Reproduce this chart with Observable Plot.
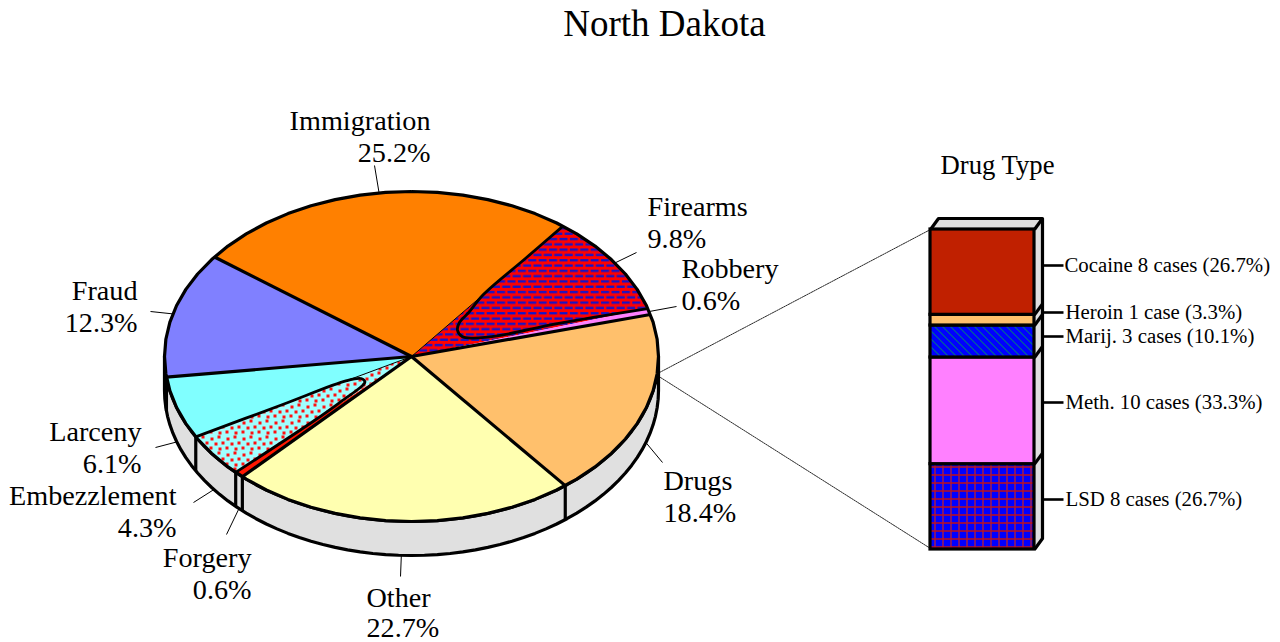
<!DOCTYPE html>
<html>
<head>
<meta charset="utf-8">
<script src="https://cdn.jsdelivr.net/npm/d3@7"></script>
<script src="https://cdn.jsdelivr.net/npm/@observablehq/plot@0.6"></script>
<style>html,body{margin:0;padding:0;background:#fff}svg{display:block}</style>
</head>
<body>
<div id="chart"></div>
<script>
// ---- data ----
const categories = ["Immigration","Firearms","Robbery","Drugs","Other","Forgery","Embezzlement","Larceny","Fraud"];
const shares     = [25.2, 9.8, 0.6, 18.4, 22.7, 0.6, 4.3, 6.1, 12.3];
const drugTypes  = ["LSD","Meth.","Marij.","Heroin","Cocaine"];
const drugCases  = [8, 10, 3, 1, 8];
const drugTexts  = ["LSD 8 cases (26.7%)","Meth. 10 cases (33.3%)","Marij. 3 cases (10.1%)","Heroin 1 case (3.3%)","Cocaine 8 cases (26.7%)"];

// ---- styles and layout, kept apart from the values ----
const sliceFills = ["#ff8000","url(#brick)","#ff80ff","#ffc06c","#ffffb0","#ff1800","url(#dots)","#80ffff","#8080ff"];
const drugFills  = ["url(#grid)","#ff80ff","url(#hatch)","#ffc06c","#c02000"];
const labelAt = [
  {a:"end",  x:430,y:135,lx:374,ly:165},
  {a:"start",x:647,y:221,lx:636,ly:252},
  {a:"start",x:681,y:283,lx:676,ly:306},
  {a:"start",x:663,y:495,lx:662,ly:462},
  {a:"start",x:366,y:612,lx:400,ly:576,lh:29.5},
  {a:"end",  x:251,y:572,lx:226,ly:534},
  {a:"end",  x:176,y:510,lx:193,ly:502},
  {a:"end",  x:141,y:446,lx:155,ly:447},
  {a:"end",  x:137,y:305,lx:150,ly:311}
];
const tickY = [499,402,336,312,265];
const textX = [1065,1065,1065,1065,1064];
const cx = 411, cy = 356, rx = 247, ry = 165, depth = 34;
const thick = 3.2;
const labelSize = 28.2;
const serif = "Liberation Serif, Times New Roman, serif";

// ---- geometry derived from the values ----
const rad = d => d * Math.PI / 180;
const arcs = d3.pie().sort(null).startAngle(rad(-52.9)).endAngle(rad(307.1))(shares);
const pt = (a, t = 1, dz = 0) => ({x: cx + t * rx * Math.sin(a), y: cy - t * ry * Math.cos(a) + dz});
const arcPts = (a0, a1, dz = 0) => d3.range(0, 61).map(i => pt(a0 + (a1 - a0) * i / 60, 1, dz));
const slicePts = s => [{x: cx, y: cy}, ...arcPts(s.startAngle, s.endAngle)];
const wedge = (s, f, t) => pt(s.startAngle + (s.endAngle - s.startAngle) * f, t);
const spoke = (a, t0, t1) => [pt(a, t0), pt(a, t1)];

const iF = categories.indexOf("Firearms"), iE = categories.indexOf("Embezzlement");
const fire = arcs[iF], emb = arcs[iE];
// the outlines of the two slices that end in a rounded tip short of the centre
const fireTip = [[0,1],[0,.75],[0,.47],[.09,.353],[.155,.283],[.33,.245],[.61,.238],[.786,.27],[.924,.382],[.95,.623],[1,1]].map(([f,t]) => wedge(fire,f,t));
const embTip  = [[1,1],[1,.6],[1,.3],[.74,.244],[.355,.243],[.21,.262],[.05,.405],[0,.55],[0,1]].map(([f,t]) => wedge(emb,f,t));

const wallPts = [...arcPts(Math.PI/2, 3*Math.PI/2, 0), ...arcPts(3*Math.PI/2, Math.PI/2, depth)];
const thickSpokes = [arcs[2].endAngle, arcs[3].endAngle, arcs[4].endAngle, arcs[7].endAngle, arcs[8].endAngle];
const lowerEdges = [arcs[3].endAngle, arcs[4].endAngle, arcs[5].endAngle, arcs[6].endAngle, arcs[7].endAngle];

const barY = d3.scaleLinear([0, d3.sum(drugCases)], [549, 229]);
const cum = d3.cumsum(drugCases);
const bar = drugTypes.map((d, i) => ({d, fill: drugFills[i], y1: barY(i ? cum[i-1] : 0), y2: barY(cum[i])}));
const bx0 = 930, bx1 = 1034, sx = 8, sy = -11;

const lineOpt = (w = thick) => ({x:"x", y:"y", stroke:"#000", strokeWidth:w, strokeLinejoin:"round", strokeLinecap:"butt", strokeMiterlimit:4});
const poly = (pts, fill) => Plot.line(pts, {x:"x", y:"y", fill, stroke:"none", curve:"linear-closed"});

const defs = () => {
  const g = document.createElementNS("http://www.w3.org/2000/svg", "defs");
  g.innerHTML = `
  <pattern id="brick" patternUnits="userSpaceOnUse" width="10.4" height="10.6" x="455" y="300">
    <rect width="10.4" height="10.6" fill="#ff0000"/>
    <g fill="#1414c8">
      <rect x="0" y="1" width="8" height="2.3"/>
      <rect x="5.2" y="6.3" width="5.2" height="2.3"/>
      <rect x="0" y="6.3" width="2.8" height="2.3"/>
    </g>
  </pattern>
  <pattern id="dots" patternUnits="userSpaceOnUse" width="16" height="16" x="320" y="370">
    <rect width="16" height="16" fill="#a0ffff"/>
    <g fill="#ff1010" shape-rendering="crispEdges">
      <rect x="2" y="3" width="3" height="3"/><rect x="9" y="1" width="3" height="3"/>
      <rect x="6" y="8" width="3" height="3"/><rect x="13" y="7" width="3" height="3"/>
      <rect x="1" y="12" width="3" height="3"/><rect x="10" y="13" width="3" height="3"/>
    </g>
  </pattern>
  <pattern id="hatch" patternUnits="userSpaceOnUse" width="8" height="8">
    <rect width="8" height="8" fill="#0000ff"/>
    <path d="M-2,-2 L10,10 M-10,-2 L2,10 M6,-2 L18,10" stroke="#006e8a" stroke-width="1.1"/>
  </pattern>
  <pattern id="grid" patternUnits="userSpaceOnUse" width="8" height="8" x="931" y="463">
    <rect width="8" height="8" fill="#0000ff"/>
    <rect x="3.25" y="0" width="1.5" height="8" fill="#a01c50"/>
    <rect x="0" y="3.25" width="8" height="1.5" fill="#c01018"/>
  </pattern>`;
  return g;
};

const marks = [
  defs,
  // drop connectors from the Drugs slice to the column
  Plot.line([{x:659,y:372},{x:bx0,y:229}], {x:"x", y:"y", stroke:"#111", strokeWidth:0.9, strokeDasharray:"1.6,1"}),
  Plot.line([{x:660,y:377},{x:bx0,y:548}], {x:"x", y:"y", stroke:"#111", strokeWidth:0.9, strokeDasharray:"1.6,1"}),
  // pie wall
  poly(wallPts, "#e0e0e0"),
  Plot.line(wallPts.concat([wallPts[0]]), lineOpt()),
  ...lowerEdges.map(a => Plot.line([pt(a), pt(a,1,depth)], lineOpt())),
  // slices
  ...arcs.map((s, i) => poly(slicePts(s), sliceFills[i])),
  // inner hairlines and slice borders
  Plot.line(spoke(fire.startAngle, 0, .47), lineOpt(1)),
  Plot.line(spoke(emb.endAngle, 0, .3), lineOpt(1)),
  ...thickSpokes.map(a => Plot.line(spoke(a, 0, 1), lineOpt())),
  Plot.line(fireTip, {...lineOpt(2.8), curve:"catmull-rom"}),
  Plot.line(embTip, {...lineOpt(2.8), curve:"catmull-rom"}),
  // rim
  Plot.line(arcPts(0, 2*Math.PI), lineOpt()),
  // leaders
  ...arcs.map((s, i) => {
    const m = (s.startAngle + s.endAngle) / 2;
    const lower = Math.cos(m) < 0;
    return Plot.line([pt(m, 1, lower ? depth : 0), {x: labelAt[i].lx, y: labelAt[i].ly}], lineOpt(1));
  }),
  // labels
  ...categories.map((c, i) => Plot.text([`${c}\n${shares[i].toFixed(1)}%`], {
    x: () => labelAt[i].x, y: () => labelAt[i].y, text: d => d,
    textAnchor: labelAt[i].a, fontFamily: serif, fontSize: labelSize, lineHeight: (labelAt[i].lh || 32) / labelSize, fill: "#000"
  })),
  // title
  Plot.text(["North Dakota"], {x: () => 664, y: () => 24, text: d => d, fontFamily: serif, fontSize: 37, fill:"#000"}),
  Plot.text(["Drug Type"], {x: () => 997, y: () => 165, text: d => d, fontFamily: serif, fontSize: 26.7, fill:"#000"}),
  // column
  poly([{x:bx0,y:barY(30)},{x:bx0+sx,y:barY(30)+sy},{x:bx1+sx,y:barY(30)+sy},{x:bx1,y:barY(30)}], "#e0e0e0"),
  poly([{x:bx1,y:barY(30)},{x:bx1+sx,y:barY(30)+sy},{x:bx1+sx,y:barY(0)+sy},{x:bx1,y:barY(0)}], "#e0e0e0"),
  Plot.line([{x:bx0,y:barY(30)},{x:bx0+sx,y:barY(30)+sy},{x:bx1+sx,y:barY(30)+sy},{x:bx1+sx,y:barY(0)+sy},{x:bx1,y:barY(0)}], lineOpt()),
  ...bar.map(b => Plot.line([{x:bx1,y:b.y2},{x:bx1+sx,y:b.y2+sy}], lineOpt())),
  Plot.rect(bar, {x1: () => bx0, x2: () => bx1, y1:"y1", y2:"y2", fill:"fill", stroke:"#000", strokeWidth:thick}),
  ...bar.map((b, i) => Plot.line([{x:bx1+sx+1,y:tickY[i]},{x:bx1+sx+21,y:tickY[i]}], lineOpt(2.6))),
  Plot.text(drugTexts, {x: (d,i) => textX[i], y: (d,i) => tickY[i], text: d => d, textAnchor:"start", fontFamily: serif, fontSize: 20.8, fill:"#000"})
];

const chart = Plot.plot({
  width: 1280, height: 642, margin: 0,
  x: {domain:[0,1280], range:[0,1280], axis:null},
  y: {domain:[0,642], range:[0,642], axis:null},
  color: {type:"identity"},
  style: {background:"#fff"},
  marks
});
document.getElementById("chart").append(chart);
</script>
</body>
</html>
